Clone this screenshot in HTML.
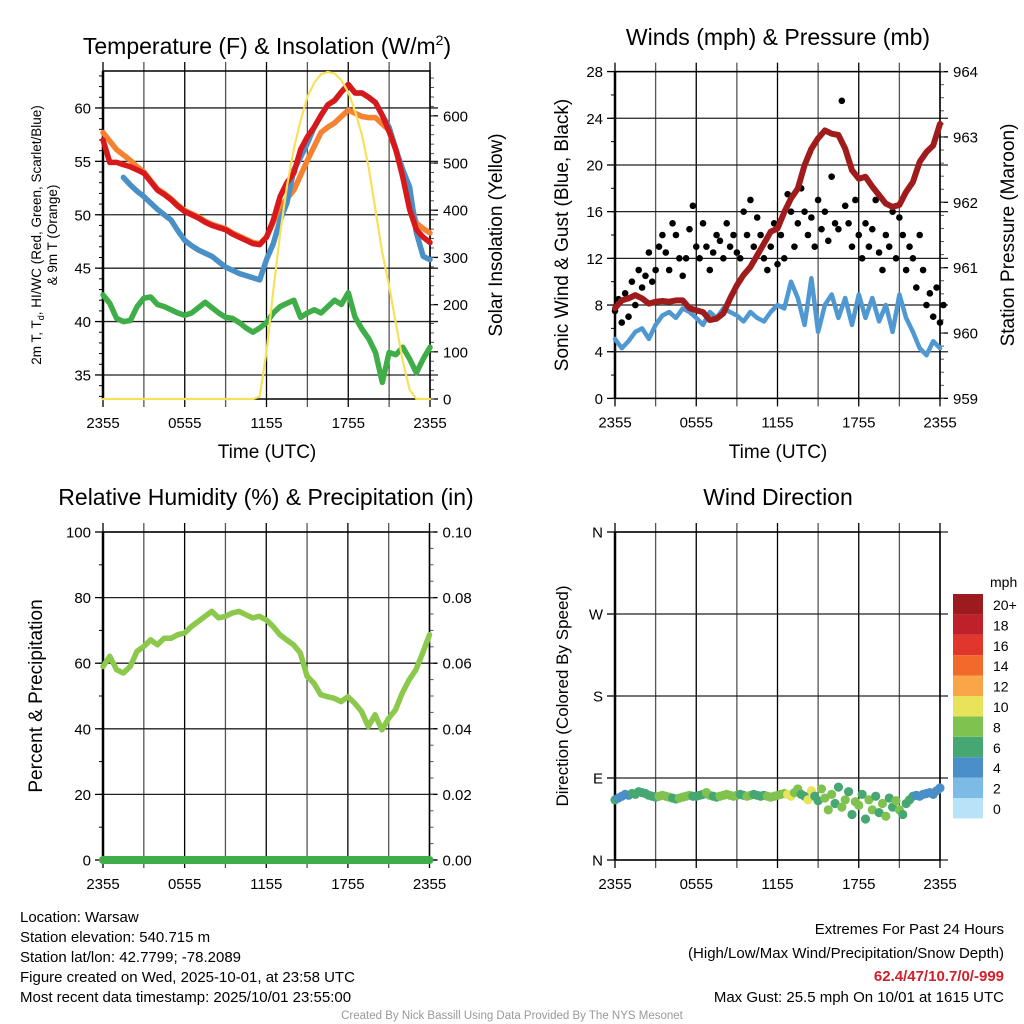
<!DOCTYPE html>
<html><head><meta charset="utf-8">
<style>
html,body{margin:0;padding:0;background:#fff;}
svg{display:block;font-family:"Liberation Sans",Arial,sans-serif;}
</style></head>
<body>
<svg id="chart" width="1024" height="1024" viewBox="0 0 1024 1024" xmlns="http://www.w3.org/2000/svg">
<rect x="0" y="0" width="1024" height="1024" fill="#fff"/>
<text x="267" y="54" font-size="23" text-anchor="middle">Temperature (F) &amp; Insolation (W/m<tspan font-size="14" dy="-9">2</tspan><tspan dy="9">)</tspan></text>
<text x="778" y="45" font-size="23" text-anchor="middle">Winds (mph) &amp; Pressure (mb)</text>
<text x="266" y="505" font-size="23" text-anchor="middle">Relative Humidity (%) &amp; Precipitation (in)</text>
<text x="778" y="505" font-size="23" text-anchor="middle">Wind Direction</text>

<text transform="translate(41,235) rotate(-90)" font-size="13.5" text-anchor="middle">2m T, T<tspan font-size="9" dy="3">d</tspan><tspan dy="-3">, HI/WC (Red, Green, Scarlet/Blue)</tspan></text>
<text transform="translate(57,235) rotate(-90)" font-size="13.5" text-anchor="middle">&amp; 9m T (Orange)</text>
<text transform="translate(502,235) rotate(-90)" font-size="19" text-anchor="middle">Solar Insolation (Yellow)</text>
<text x="267" y="458" font-size="19" text-anchor="middle">Time (UTC)</text>
<text transform="translate(568,235) rotate(-90)" font-size="19" text-anchor="middle">Sonic Wind &amp; Gust (Blue, Black)</text>
<text transform="translate(1014,235) rotate(-90)" font-size="19" text-anchor="middle">Station Pressure (Maroon)</text>
<text x="778" y="458" font-size="19" text-anchor="middle">Time (UTC)</text>
<text transform="translate(42,696) rotate(-90)" font-size="19" text-anchor="middle">Percent &amp; Precipitation</text>
<text transform="translate(568,696) rotate(-90)" font-size="17" text-anchor="middle">Direction (Colored By Speed)</text>

<g font-size="15">
<text x="20" y="922">Location: Warsaw</text>
<text x="20" y="942">Station elevation: 540.715 m</text>
<text x="20" y="962">Station lat/lon: 42.7799; -78.2089</text>
<text x="20" y="982">Figure created on Wed, 2025-10-01, at 23:58 UTC</text>
<text x="20" y="1002">Most recent data timestamp: 2025/10/01 23:55:00</text>
</g>
<g font-size="15" text-anchor="end">
<text x="1004" y="934">Extremes For Past 24 Hours</text>
<text x="1004" y="958">(High/Low/Max Wind/Precipitation/Snow Depth)</text>
<text x="1004" y="981" fill="#d0202a" font-weight="bold">62.4/47/10.7/0/-999</text>
<text x="1004" y="1002">Max Gust: 25.5 mph On 10/01 at 1615 UTC</text>
</g>
<text x="512" y="1019" font-size="11.5" fill="#999" text-anchor="middle">Created By Nick Bassill Using Data Provided By The NYS Mesonet</text>
</svg>
<script>
// ---- data (half-hourly unless noted) ----
const xTickLabels = ["2355","0555","1155","1755","2355"];
const tempRed = [57.0,54.9,54.9,54.7,54.5,54.2,53.9,53.1,52.3,51.9,51.4,50.8,50.3,50.0,49.7,49.3,49.0,48.8,48.6,48.2,47.9,47.6,47.3,47.2,47.9,49.5,51.7,53.0,53.9,56.1,57.3,58.2,59.3,60.3,60.7,61.5,62.2,61.4,61.4,61.0,60.5,59.3,57.8,56.1,53.5,50.5,48.6,47.9,47.4];
const tempOrange = [57.7,56.9,56.1,55.6,55.1,54.5,54.0,53.2,52.4,52.0,51.5,50.9,50.4,50.1,49.8,49.4,49.1,48.9,48.7,48.3,48.0,47.7,47.4,47.3,47.9,49.3,50.7,51.5,52.3,53.7,55.1,56.4,57.7,58.2,58.6,59.2,59.8,59.5,59.2,59.1,59.1,58.5,57.9,56.0,53.9,51.5,49.2,48.7,48.3];
const tempBlue = [null,null,null,53.5,52.8,52.2,51.7,51.1,50.5,50.0,49.5,48.5,47.6,47.1,46.7,46.4,46.1,45.6,45.1,44.8,44.5,44.3,44.1,43.9,45.8,47.3,49.5,51.1,54.2,55.4,56.7,58.2,59.3,60.3,60.7,61.5,62.2,61.4,61.4,61.0,60.5,59.3,58.2,56.1,54.2,52.6,48.3,46.1,45.8];
const dewGreen = [42.5,41.7,40.3,40.0,40.1,41.4,42.2,42.3,41.6,41.4,41.1,40.8,40.6,40.8,41.3,41.8,41.3,40.8,40.4,40.3,39.9,39.4,39.0,39.4,39.9,40.8,41.4,41.7,42.0,40.4,40.8,41.1,40.8,41.4,42.0,41.6,42.7,40.4,39.3,38.4,37.1,34.3,37.1,36.9,37.6,36.5,35.2,36.5,37.6];
const insolation = [0,0,0,0,0,0,0,0,0,0,0,0,0,0,0,0,0,0,0,0,0,0,0,5,100,230,350,450,530,590,640,670,688,693,690,675,650,610,560,490,400,310,240,160,80,20,0,0,0];
const windSpeed = [5.1,4.3,4.9,5.7,6.0,5.1,6.3,7.1,7.4,6.9,7.7,7.4,6.9,6.3,7.4,6.9,7.7,7.4,7.1,6.6,7.4,6.9,6.6,7.4,8.0,7.7,10.0,8.6,6.3,10.3,5.7,8.0,8.9,6.9,8.6,6.3,8.9,6.9,8.6,6.6,8.0,5.7,8.9,6.9,5.7,4.3,3.7,4.9,4.3];
const pressure = [960.38,960.50,960.53,960.58,960.53,960.45,960.48,960.49,960.48,960.50,960.50,960.38,960.35,960.32,960.20,960.22,960.30,960.53,960.73,960.89,961.01,961.19,961.37,961.55,961.60,961.85,962.06,962.21,962.57,962.82,962.98,963.10,963.05,963.03,962.82,962.49,962.36,962.39,962.24,962.11,961.98,961.93,961.96,962.16,962.31,962.62,962.77,962.87,963.20];
// gusts every 15 min
const gusts = [7.5,8.5,6.5,9,7,10,8,11,9.5,10.5,12.5,10,11,13,14,12.5,11,15,14,12,10.5,12,14.5,16.5,13,12,15,13,11,12.5,14,13.5,12,15,13,14,12.5,12,16,14,17,13,15.5,14,12,11,13,15,11.5,14,12,17.5,16,13,15,18,16,14,15.5,13,17,14.5,16,13.5,19,15,14.5,25.5,16.5,15,13,17,14,12,15,13,14.5,17,12.5,11,14,13,16,12,15.5,14,11,13,12,9.5,14,11,8,9,7,9.5,6.5,8];
const relHum = [59,62.1,58,57,59,63.6,65.1,67.1,65.6,67.6,67.6,68.7,69.2,71.2,72.7,74.3,75.8,73.8,74.3,75.3,75.8,74.8,73.8,74.3,73.2,71.2,68.7,67.1,65.6,63.1,56,53.9,50.4,49.8,49.3,48.3,49.8,47.8,45.3,40.7,44.3,39.7,43.2,45.8,50.9,54.9,58,63.1,68.7];
const precip = [0,0,0,0,0,0,0,0,0,0,0,0,0,0,0,0,0,0,0,0,0,0,0,0,0,0,0,0,0,0,0,0,0,0,0,0,0,0,0,0,0,0,0,0,0,0,0,0,0];
// direction every 15 min (degrees)
const windDir = [66,68,70,72,71,73,72,75,74,73,71,70,69,70,71,70,69,68,67,68,69,70,71,70,70,71,72,74,71,70,69,70,71,72,71,70,71,72,71,70,71,72,71,70,71,70,69,70,71,72,73,72,70,74,78,72,70,66,76,70,65,78,68,55,72,62,80,58,66,75,50,64,60,72,45,66,55,70,52,62,48,68,58,65,55,50,62,66,70,71,70,72,73,74,72,76,79];
const speedBins = ["0","2","4","6","8","10","12","14","16","18","20+"];
const binColors = ["#b8e2f7","#7cbbe6","#4a8fc7","#47a772","#80c24f","#e7e35a","#f9a648","#f26a2b","#e0362b","#c0202a","#9b1b1e"];

const NS="http://www.w3.org/2000/svg";
const svg=document.getElementById('chart');
function mk(tag,attrs,parent){const e=document.createElementNS(NS,tag);for(const k in attrs)e.setAttribute(k,attrs[k]);(parent||svg).appendChild(e);return e;}

function panel(p){
  const g=mk('g',{});
  
  
  const sx=t=>p.x0+t/24*(p.x1-p.x0);
  const sy=v=>p.y1-(v-p.lmin)/(p.lmax-p.lmin)*(p.y1-p.y0);
  const sr=v=>p.y1-(v-p.rmin)/(p.rmax-p.rmin)*(p.y1-p.y0);
  for(let h=0;h<=24;h+=3){
    const x=sx(h);
    const l=mk('line',{x1:x,x2:x,y1:p.y0-9,y2:p.y1+8,stroke:(h%6===0)?'#000':'#555','stroke-width':1.3},g);
    
    
  }
  xTickLabels.forEach((s,i)=>{
    const t=mk('text',{x:sx(i*6),y:p.y1+29,'font-size':15,'text-anchor':'middle'},g);
    
    
    t.textContent=s;
  });
  p.lticks.forEach((v,i)=>{
    const y=sy(v);
    if(p.hgrid){const l=mk('line',{x1:p.x0,x2:p.x1+8,y1:y,y2:y,stroke:'#222','stroke-width':1.3},g);
      
      }
    mk('line',{x1:p.x0-8,x2:p.x0,y1:y,y2:y,stroke:'#000','stroke-width':1.3},g);
    const t=mk('text',{x:p.x0-12,y:y+5.5,'font-size':15,'text-anchor':'end'},g);
    
    
    t.textContent=p.llabels?p.llabels[i]:v;
  });
  if(p.lminor)p.lminor.forEach(v=>mk('line',{x1:p.x0-4,x2:p.x0,y1:sy(v),y2:sy(v),stroke:'#000'},g));
  if(p.rticks){
    p.rticks.forEach((v,i)=>{
      const y=sr(v);
      mk('line',{x1:p.x1,x2:p.x1+8,y1:y,y2:y,stroke:'#000','stroke-width':1.3},g);
      const t=mk('text',{x:p.x1+13,y:y+5.5,'font-size':15},g);
      
      
      t.textContent=p.rlabels?p.rlabels[i]:v;
    });
    if(p.rminor)p.rminor.forEach(v=>mk('line',{x1:p.x1,x2:p.x1+4,y1:sr(v),y2:sr(v),stroke:'#555'},g));
  }
  const frame=mk('rect',{x:p.x0,y:p.y0,width:p.x1-p.x0,height:p.y1-p.y0,fill:'none',stroke:'#000','stroke-width':1.5},g);
  
  
  mk('line',{x1:p.x0,x2:p.x0,y1:p.y0,y2:p.y1,stroke:'#000','stroke-width':2.5},g);
  return {g,sx,sy,sr};
}
function line(ax,arr,step,scale,color,w,name){
  let d='';let pen=false;
  arr.forEach((v,i)=>{
    if(v===null){pen=false;return;}
    d+=(pen?'L':'M')+ax.sx(i*step).toFixed(1)+' '+scale(v).toFixed(1)+' ';pen=true;
  });
  const e=mk('path',{d:d,fill:'none',stroke:color,'stroke-width':w,'stroke-linejoin':'round','stroke-linecap':'round'},ax.g);
  
  
  return e;
}
function range(a,b,s){const r=[];for(let v=a;v<=b+1e-9;v+=s)r.push(+v.toFixed(4));return r;}

const p1=panel({name:'temperature-panel',x0:103,x1:430,y0:71,y1:399,lmin:32.75,lmax:63.46,rmin:0,rmax:695,
  lticks:[35,40,45,50,55,60],lminor:range(33,63,1),hgrid:true,rticks:[0,100,200,300,400,500,600],rminor:range(0,680,20)});
line(p1,dewGreen,0.5,p1.sy,'#3fae49',5.5,'dewpoint-line');
line(p1,tempOrange,0.5,p1.sy,'#f58231',5.5,'temp-9m-line');
line(p1,tempBlue,0.5,p1.sy,'#4a90c8',5.5,'heat-index-line');
line(p1,tempRed,0.5,p1.sy,'#d7191c',5.5,'temp-2m-line');
line(p1,insolation,0.5,p1.sr,'#f7e15a',2.2,'insolation-line');

const p2=panel({name:'wind-panel',x0:615,x1:940,y0:71.6,y1:398.4,lmin:0,lmax:28,rmin:959,rmax:964,
  lticks:[0,4,8,12,16,20,24,28],lminor:range(0,28,2),hgrid:true,rticks:[959,960,961,962,963,964],rminor:range(959,964,0.2)});
line(p2,windSpeed,0.5,p2.sy,'#4f98d2',4.5,'wind-speed-line');
gusts.forEach((v,i)=>{
  const c=mk('circle',{cx:p2.sx(i*0.25),cy:p2.sy(v),r:3.3,fill:'#000'},p2.g);
  
  
});
line(p2,pressure,0.5,p2.sr,'#a01c1c',6,'pressure-line');

const p3=panel({name:'humidity-panel',x0:103,x1:429.5,y0:532,y1:860,lmin:0,lmax:100,rmin:0,rmax:0.1,
  lticks:[0,20,40,60,80,100],lminor:range(0,100,10),hgrid:true,rticks:[0,0.02,0.04,0.06,0.08,0.1],rlabels:["0.00","0.02","0.04","0.06","0.08","0.10"],rminor:range(0,0.1,0.005)});
line(p3,relHum,0.5,p3.sy,'#8cc84b',5.5,'rh-line');
line(p3,precip,0.5,p3.sr,'#3fae49',8,'precip-line');

const p4=panel({name:'direction-panel',x0:615,x1:940,y0:532,y1:860,lmin:0,lmax:360,
  lticks:[0,90,180,270,360],llabels:["N","E","S","W","N"],hgrid:true});
windDir.forEach((v,i)=>{
  const s=windSpeed[Math.min(48,Math.round(i/2))];
  const b=Math.min(10,Math.floor((s+0.9)/2));
  const c=mk('circle',{cx:p4.sx(i*0.25),cy:p4.sy(v),r:4.6,fill:binColors[b]},p4.g);
  
  
});
const cb=mk('g',{});


const mph=mk('text',{x:990,y:587,'font-size':14},cb);


mph.textContent='mph';
speedBins.forEach((lab,i)=>{
  const y=594+(10-i)*20.4;
  const r=mk('rect',{x:953,y:y,width:30,height:20.4,fill:binColors[i]},cb);
  
  
  const t=mk('text',{x:993,y:y+16,'font-size':14},cb);
  
  
  t.textContent=lab;
});
</script>
</body></html>
